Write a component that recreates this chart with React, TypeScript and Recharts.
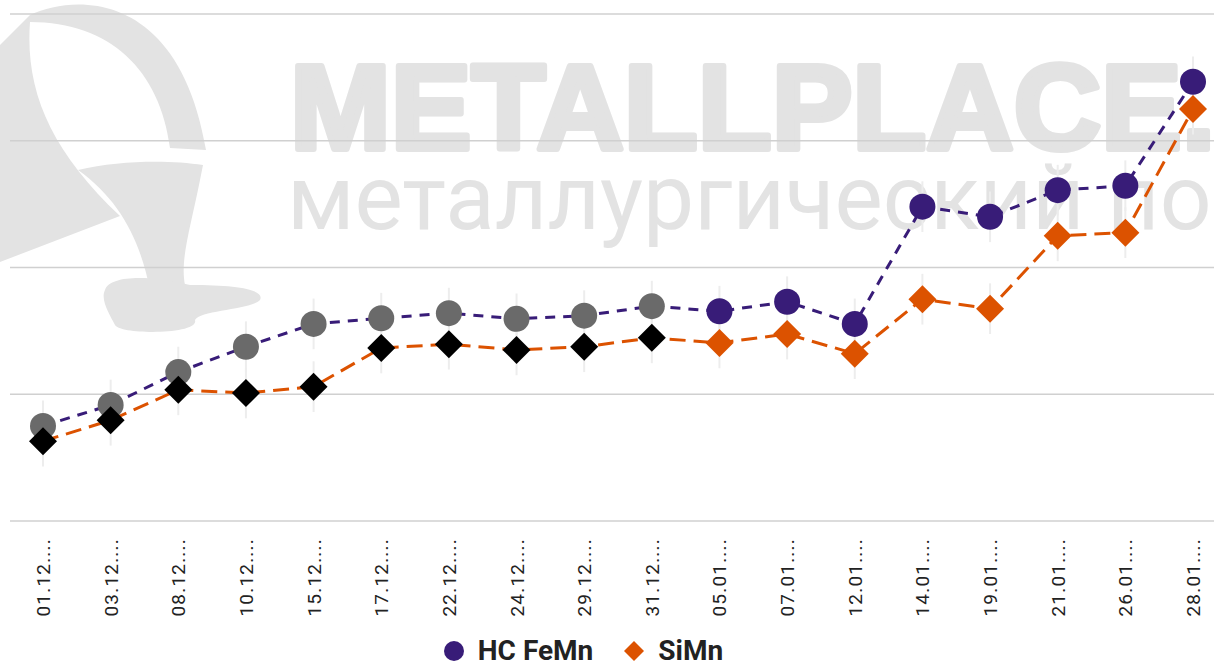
import { LineChart, Line, XAxis, YAxis, CartesianGrid, ErrorBar } from 'recharts';

document.body.style.margin = '0';

const dates = [
  '01.12.2021', '03.12.2021', '08.12.2021', '10.12.2021', '15.12.2021', '17.12.2021',
  '22.12.2021', '24.12.2021', '29.12.2021', '31.12.2021', '05.01.2022', '07.01.2022',
  '12.01.2022', '14.01.2022', '19.01.2022', '21.01.2022', '26.01.2022', '28.01.2022',
];
const feMn = [950, 983, 1035, 1075, 1111, 1120, 1128, 1119, 1124, 1139, 1131, 1146, 1111, 1296, 1280, 1322, 1329, 1493];
const siMn = [926, 959, 1007, 1002, 1012, 1073, 1079, 1070, 1075, 1089, 1081, 1095, 1064, 1150, 1135, 1250, 1255, 1450];
const feErr = [40, 40, 40, 40, 40, 40, 40, 40, 40, 40, 40, 40, 40, 40, 40, 40, 40, 40];
const siErr = [40, 40, 40, 40, 40, 40, 40, 40, 40, 40, 40, 40, 40, 40, 40, 40, 40, 40];
const yTicks = [800, 1000, 1200, 1400, 1600];

// first 10 points are drawn in neutral colours
const OLD_POINTS = 10;

const PURPLE = '#381c78';
const ORANGE = '#dc5200';

const data = dates.map((d, i) => ({
  date: d,
  feMn: feMn[i],
  siMn: siMn[i],
  feErr: feErr[i],
  siErr: siErr[i],
}));

const CircleDot = (props: any) => {
  const { cx, cy, index } = props;
  if (cx == null || cy == null) return null;
  return <circle key={`fe-${index}`} cx={cx} cy={cy} r={13} fill={index < OLD_POINTS ? '#6a6a6a' : PURPLE} />;
};

const DiamondDot = (props: any) => {
  const { cx, cy, index } = props;
  if (cx == null || cy == null) return null;
  const s = 14;
  return (
    <path
      key={`si-${index}`}
      d={`M${cx},${cy - s}L${cx + s},${cy}L${cx},${cy + s}L${cx - s},${cy}Z`}
      fill={index < OLD_POINTS ? '#000' : ORANGE}
    />
  );
};

const DateTick = ({ x, y, payload }: any) => (
  <text
    x={x}
    y={y}
    transform={`rotate(-90, ${x}, ${y})`}
    dx={-9}
    dy={7}
    textAnchor="end"
    fill="#222"
    fontSize={19}
    letterSpacing={1.2}
    fontFamily="Roboto, sans-serif"
  >
    {payload.value.slice(0, 6) + '...'}
  </text>
);

function Watermark() {
  const grey = '#e3e3e3';
  return (
    <svg width={1214} height={666} style={{ position: 'absolute', left: 0, top: 0 }}>
      <path
        d="M0 45 L30 15 C80 -8 180 -5 206 150 L170 148 C160 70 110 22 30 22 C25 90 50 150 120 216 L0 262 Z"
        fill={grey}
      />
      <path d="M78 170 C120 160 170 160 203 165 L200 180 C190 230 180 260 185 285 L150 290 C140 240 120 200 78 170 Z" fill={grey} />
      <path d="M105 290 C110 275 150 275 190 285 C240 285 265 290 260 300 C250 310 200 310 195 320 C200 335 120 335 115 325 C110 315 100 300 105 290 Z" fill={grey} />
      <text
        x={290}
        y={149}
        fontSize={121}
        fontWeight={700}
        fontFamily="'Liberation Sans', Arial, sans-serif"
        fill={grey}
        stroke={grey}
        strokeWidth={6}
        strokeLinejoin="round"
      >
        METALLPLACE.RU
      </text>
      <text x={287} y={229} fontSize={91} fontFamily="Roboto, sans-serif" fill={grey}>
        металлургический портал
      </text>
    </svg>
  );
}

export default function App() {
  return (
    <div style={{ position: 'relative', width: 1214, height: 666, overflow: 'hidden', background: '#fff' }}>
      <Watermark />
      <div style={{ position: 'absolute', left: 0, top: 0 }}>
        <LineChart width={1240} height={666} data={data} margin={{ top: 14, right: 14, left: 10, bottom: 0 }}>
          <CartesianGrid vertical={false} stroke="#d0d0d0" strokeWidth={1.5} />
          <XAxis
            dataKey="date"
            interval={0}
            height={145}
            axisLine={false}
            tickLine={false}
            tick={<DateTick />}
            padding={{ left: 33, right: 33 }}
          />
          <YAxis hide domain={[800, 1600]} ticks={yTicks} />
          <Line
            dataKey="feMn"
            stroke={PURPLE}
            strokeWidth={3}
            strokeDasharray="10 8"
            dot={CircleDot}
            activeDot={false}
            isAnimationActive={false}
          >
            <ErrorBar dataKey="feErr" direction="y" width={0} stroke="#ededed" strokeWidth={2} />
          </Line>
          <Line
            dataKey="siMn"
            stroke={ORANGE}
            strokeWidth={3}
            strokeDasharray="16 8"
            dot={DiamondDot}
            activeDot={false}
            isAnimationActive={false}
          >
            <ErrorBar dataKey="siErr" direction="y" width={0} stroke="#ededed" strokeWidth={2} />
          </Line>
        </LineChart>
      </div>
      <div
        style={{
          position: 'absolute',
          top: 636,
          left: 0,
          width: 1166,
          height: 30,
          display: 'flex',
          justifyContent: 'center',
          alignItems: 'center',
          gap: 30,
          fontFamily: 'Roboto, sans-serif',
          fontWeight: 700,
          fontSize: 28,
          lineHeight: '30px',
          color: '#222',
        }}
      >
        <span style={{ display: 'flex', alignItems: 'center', gap: 13 }}>
          <svg width={22} height={22}><circle cx={11} cy={11} r={10} fill={PURPLE} /></svg>
          HC FeMn
        </span>
        <span style={{ display: 'flex', alignItems: 'center', gap: 13 }}>
          <svg width={22} height={22}><path d="M11 1 L21 11 L11 21 L1 11 Z" fill={ORANGE} /></svg>
          SiMn
        </span>
      </div>
    </div>
  );
}
